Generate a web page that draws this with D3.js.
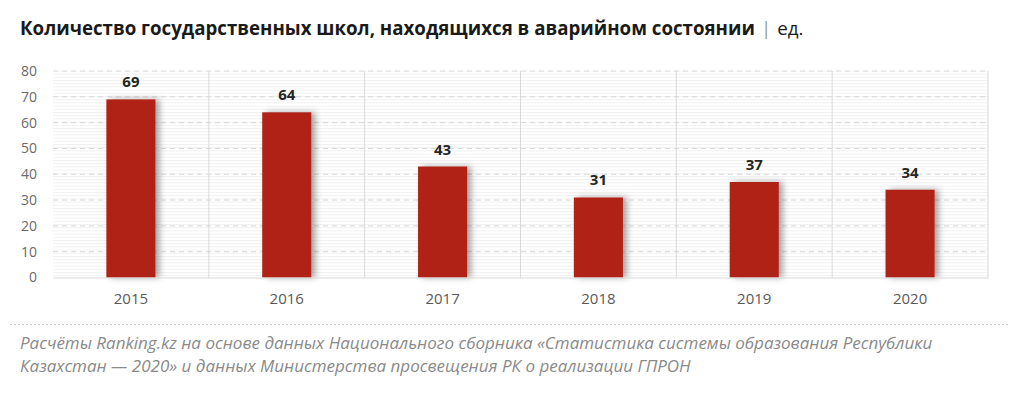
<!DOCTYPE html>
<html>
<head>
    <meta charset="UTF-8"/>
    <style>
        body {
            font-family: "Open Sans", sans-serif;
            margin: 0;
            background: #fff;
        }
    </style>
</head>
<body>
<script src="https://d3js.org/d3.v7.min.js"></script>
<div id="chart"></div>
<script>

    // chart data
    var years = ["2015", "2016", "2017", "2018", "2019", "2020"];
    var schools = [69, 64, 43, 31, 37, 34];
    var yTicks = [0, 10, 20, 30, 40, 50, 60, 70, 80];

    var W = 1024, H = 398;
    var margin = {top: 71, right: 36, bottom: 120, left: 53};

    var svg = d3.select("#chart")
        .append("svg")
        .attr("width", W)
        .attr("height", H);

    var defs = svg.append("defs");

    // faint horizontal stripes in the plot background
    var pat = defs.append("pattern")
        .attr("id", "stripes")
        .attr("patternUnits", "userSpaceOnUse")
        .attr("width", 6)
        .attr("height", 3.2);
    pat.append("rect").attr("width", 6).attr("height", 3.2).attr("fill", "#fff");
    pat.append("rect").attr("width", 6).attr("height", 1).attr("fill", "#f1f1f1");

    var shadow = defs.append("filter")
        .attr("id", "shadow")
        .attr("x", "-20%").attr("y", "-10%")
        .attr("width", "160%").attr("height", "120%");
    shadow.append("feDropShadow")
        .attr("dx", 4).attr("dy", 0)
        .attr("stdDeviation", 3)
        .attr("flood-color", "#000")
        .attr("flood-opacity", 0.35);

    // shrink/grow a text's font size so it spans the given width
    function fitWidth(sel, width) {
        var fs = parseFloat(sel.attr("font-size"));
        var len = sel.node().getComputedTextLength();
        sel.attr("font-size", (fs * width / len).toFixed(2) + "px");
    }

    var x = d3.scaleBand()
        .domain(years)
        .range([margin.left, W - margin.right])
        .paddingInner(0)
        .paddingOuter(0);

    var y = d3.scaleLinear()
        .domain([0, 80])
        .range([H - margin.bottom - 0.5, margin.top]);

    // plot background
    svg.append("rect")
        .attr("x", x.range()[0])
        .attr("y", y(80))
        .attr("width", x.range()[1] - x.range()[0])
        .attr("height", y(0) - y(80))
        .attr("fill", "url(#stripes)");

    // vertical separators between years
    svg.selectAll(".sep")
        .data(years)
        .enter()
        .append("line")
        .attr("x1", function(d){ return x(d) + x.bandwidth(); })
        .attr("x2", function(d){ return x(d) + x.bandwidth(); })
        .attr("y1", y(80))
        .attr("y2", y(0))
        .attr("stroke", "#d9d9d9")
        .attr("stroke-width", 1);

    // dashed gridlines
    svg.selectAll(".grid")
        .data(yTicks.slice(1))
        .enter()
        .append("line")
        .attr("x1", x.range()[0])
        .attr("x2", x.range()[1])
        .attr("y1", function(d){ return y(d); })
        .attr("y2", function(d){ return y(d); })
        .attr("stroke", "#d6d6d6")
        .attr("stroke-width", 1)
        .attr("stroke-dasharray", "5,4");

    // y axis
    var yAxis = svg.append("g")
        .attr("transform", "translate(" + (margin.left - 16) + ",0)")
        .call(d3.axisLeft(y).tickValues(yTicks).tickSize(0).tickPadding(0));
    yAxis.select(".domain").remove();
    yAxis.selectAll("text")
        .attr("font-family", "'Open Sans', sans-serif")
        .attr("font-size", "14px")
        .attr("fill", "#6a6a6a");

    // bars
    var barW = x.bandwidth() * 0.315;
    svg.selectAll(".bar")
        .data(schools)
        .enter()
        .append("rect")
        .attr("x", function(d, i){ return x(years[i]) + x.bandwidth() / 2 - barW / 2; })
        .attr("y", function(d){ return y(d); })
        .attr("width", barW)
        .attr("height", function(d){ return y(0) - y(d); })
        .attr("fill", "#b02418")
        .attr("filter", "url(#shadow)");

    // bottom axis line and year labels
    var xAxis = svg.append("g")
        .attr("transform", "translate(0," + y(0) + ")")
        .call(d3.axisBottom(x).tickSize(0).tickPadding(16));
    xAxis.select(".domain").attr("stroke", "#d9d9d9");
    xAxis.selectAll("text")
        .attr("font-family", "'Open Sans', sans-serif")
        .attr("font-size", "15px")
        .attr("fill", "#595959");

    // value labels
    svg.selectAll(".val")
        .data(schools)
        .enter()
        .append("text")
        .attr("x", function(d, i){ return x(years[i]) + x.bandwidth() / 2; })
        .attr("y", function(d){ return y(d) - 12; })
        .attr("text-anchor", "middle")
        .attr("font-family", "'Open Sans', sans-serif")
        .attr("font-weight", "bold")
        .attr("font-size", "15px")
        .attr("fill", "#262626")
        .text(function(d){ return d; });

    // title
    var title = svg.append("text")
        .attr("x", 20)
        .attr("y", 35)
        .attr("font-family", "'Open Sans', sans-serif")
        .attr("font-size", "17px")
        .attr("fill", "#1a1a1a");
    title.append("tspan")
        .attr("font-weight", "bold")
        .text("Количество государственных школ, находящихся в аварийном состоянии");
    fitWidth(title, 735);
    title.append("tspan")
        .attr("fill", "#9a9a9a")
        .attr("dx", 6)
        .text("|");
    title.append("tspan")
        .attr("dx", 6)
        .text("ед.");

    // footer separator
    svg.append("line")
        .attr("x1", 10)
        .attr("x2", 1008)
        .attr("y1", 324.5)
        .attr("y2", 324.5)
        .attr("stroke", "#c8c8c8")
        .attr("stroke-dasharray", "2,2");

    var notes = [
        "Расчёты Ranking.kz на основе данных Национального сборника «Статистика системы образования Республики",
        "Казахстан — 2020» и данных Министерства просвещения РК о реализации ГПРОН"
    ];
    var noteText = svg.selectAll(".note")
        .data(notes)
        .enter()
        .append("text")
        .attr("x", 20)
        .attr("y", function(d, i){ return 349 + i * 23; })
        .attr("font-family", "'Open Sans', sans-serif")
        .attr("font-style", "italic")
        .attr("font-size", "15px")
        .attr("fill", "#8a8a8a")
        .text(function(d){ return d; });
    fitWidth(d3.select(noteText.nodes()[0]), 913);
    noteText.attr("font-size", d3.select(noteText.nodes()[0]).attr("font-size"));

</script>
</body>
</html>
